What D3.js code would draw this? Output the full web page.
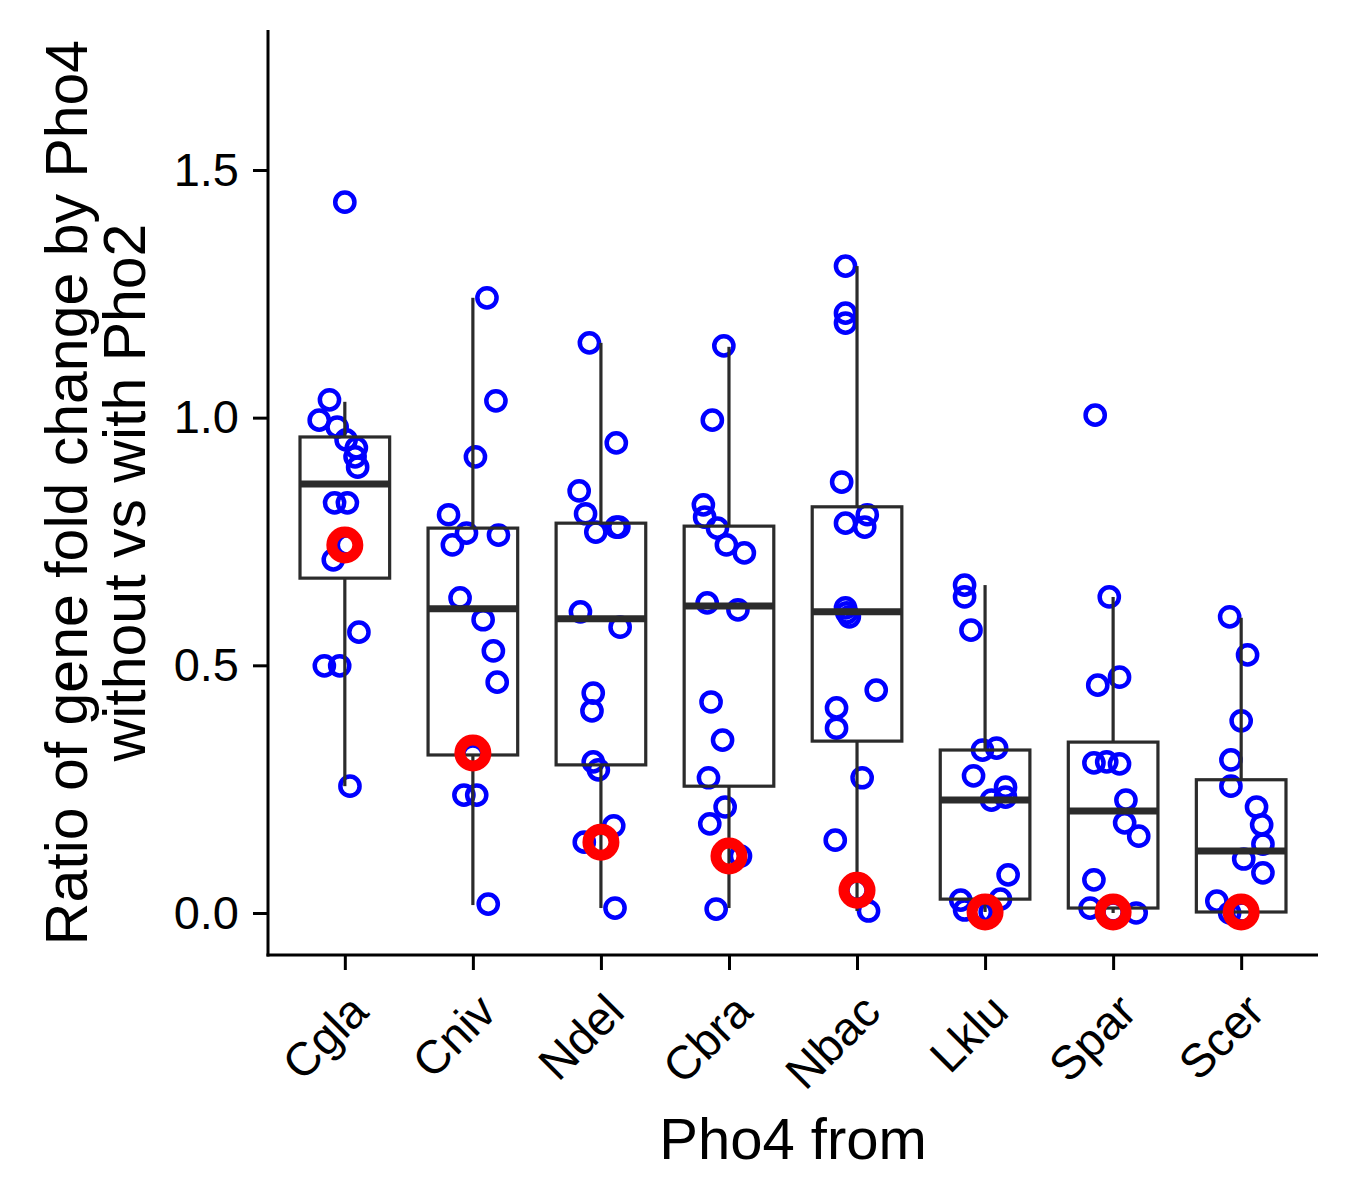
<!DOCTYPE html>
<html>
<head>
<meta charset="utf-8">
<script src="https://cdn.jsdelivr.net/npm/d3@7"></script>
<style>
  html, body { margin: 0; padding: 0; background: #ffffff; }
  svg { display: block; }
  text { font-family: "Liberation Sans", Arial, Helvetica, sans-serif; }
</style>
</head>
<body>
<svg id="chart" width="1350" height="1200"></svg>
<script>
// ---------- data ----------
const categories = ["Cgla", "Cniv", "Ndel", "Cbra", "Nbac", "Lklu", "Spar", "Scer"];

// individual gene ratios per category
const pointValues = [
  [1.435, 1.036, 0.995, 0.981, 0.955, 0.939, 0.921, 0.900, 0.828, 0.828, 0.743, 0.713, 0.567, 0.499, 0.499, 0.256],
  [1.242, 1.034, 0.921, 0.804, 0.767, 0.763, 0.743, 0.636, 0.592, 0.529, 0.466, 0.319, 0.238, 0.238, 0.018],
  [1.151, 0.949, 0.852, 0.806, 0.779, 0.779, 0.769, 0.608, 0.577, 0.444, 0.408, 0.305, 0.289, 0.176, 0.143, 0.010],
  [1.145, 0.995, 0.824, 0.799, 0.777, 0.743, 0.727, 0.626, 0.612, 0.426, 0.349, 0.273, 0.214, 0.180, 0.115, 0.008],
  [1.306, 1.211, 1.191, 0.870, 0.804, 0.787, 0.779, 0.616, 0.606, 0.598, 0.450, 0.414, 0.373, 0.273, 0.147, 0.046, 0.004],
  [0.662, 0.638, 0.571, 0.333, 0.329, 0.277, 0.254, 0.234, 0.228, 0.077, 0.028, 0.026, 0.006, 0.002, 0.002],
  [1.005, 0.638, 0.476, 0.460, 0.305, 0.303, 0.301, 0.228, 0.182, 0.155, 0.067, 0.010, 0.002, 0.000],
  [0.598, 0.521, 0.388, 0.309, 0.256, 0.214, 0.178, 0.139, 0.109, 0.081, 0.024, 0.002, 0.000]
];

// horizontal jitter of each point, in category units
const pointJitter = [
  [0.00, -0.12, -0.20, -0.06, 0.01, 0.09, 0.08, 0.10, -0.08, 0.02, 0.02, -0.09, 0.11, -0.16, -0.04, 0.04],
  [0.11, 0.18, 0.02, -0.19, -0.05, 0.20, -0.16, -0.10, 0.08, 0.16, 0.19, 0.00, -0.07, 0.03, 0.12],
  [-0.09, 0.12, -0.17, -0.12, 0.12, 0.14, -0.04, -0.16, 0.15, -0.06, -0.07, -0.06, -0.02, 0.10, -0.13, 0.11],
  [-0.04, -0.13, -0.20, -0.19, -0.09, -0.02, 0.12, -0.17, 0.07, -0.14, -0.05, -0.16, -0.03, -0.15, 0.09, -0.10],
  [-0.09, -0.09, -0.09, -0.12, 0.08, -0.09, 0.06, -0.09, -0.08, -0.06, 0.15, -0.16, -0.16, 0.04, -0.17, 0.00, 0.09],
  [-0.16, -0.16, -0.11, 0.09, -0.02, -0.09, 0.16, 0.16, 0.05, 0.18, 0.12, -0.19, -0.16, -0.03, 0.04],
  [-0.14, -0.03, 0.05, -0.12, -0.05, -0.15, 0.05, 0.10, 0.09, 0.20, -0.15, -0.18, 0.00, 0.18],
  [-0.09, 0.05, 0.00, -0.08, -0.08, 0.12, 0.16, 0.17, 0.02, 0.17, -0.19, 0.01, -0.09]
];

// boxplot statistics
const whiskerLow  = [0.256, 0.016, 0.010, 0.010, 0.004, 0.002, 0.000, 0.000];
const q1Values    = [0.676, 0.319, 0.299, 0.256, 0.347, 0.028, 0.010, 0.002];
const medians     = [0.866, 0.614, 0.594, 0.620, 0.608, 0.228, 0.206, 0.125];
const q3Values    = [0.961, 0.777, 0.787, 0.781, 0.820, 0.329, 0.345, 0.269];
const whiskerHigh = [1.032, 1.242, 1.151, 1.143, 1.306, 0.662, 0.638, 0.596];

// highlighted (red) value per category
const highlightValues = [0.743, 0.323, 0.143, 0.115, 0.046, 0.002, 0.002, 0.002];

const yTicks = [0.0, 0.5, 1.0, 1.5];
const xTitle = "Pho4 from";
const yTitleLines = ["Ratio of gene fold change by Pho4", "without vs with Pho2"];

// ---------- layout ----------
const panel = { left: 268, right: 1318, top: 30, bottom: 955 };
const svg = d3.select("#chart");

const x = d3.scalePoint()
  .domain(categories)
  .range([panel.left, panel.right])
  .padding(0.6);
const step = x.step();

const y = d3.scaleLinear()
  .domain([-0.0848, 1.7826])
  .range([panel.bottom, panel.top]);

const boxColor = "#2b2b2b";
const boxW = step * 0.7;

// ---------- blue jittered points ----------
const pts = [];
categories.forEach((c, i) => {
  pointValues[i].forEach((v, j) => pts.push({ c, v, jit: pointJitter[i][j] }));
});

svg.append("g")
  .selectAll("circle")
  .data(pts)
  .join("circle")
  .attr("cx", d => x(d.c) + d.jit * step)
  .attr("cy", d => y(d.v))
  .attr("r", 9.6)
  .attr("fill", "none")
  .attr("stroke", "#0000ff")
  .attr("stroke-width", 4.5);

// ---------- boxplots ----------
const boxes = categories.map((c, i) => ({
  c, lo: whiskerLow[i], q1: q1Values[i], med: medians[i], q3: q3Values[i], hi: whiskerHigh[i]
}));

const gb = svg.append("g");
gb.selectAll(".wu").data(boxes).join("line")
  .attr("x1", d => x(d.c)).attr("x2", d => x(d.c))
  .attr("y1", d => y(d.q3)).attr("y2", d => y(d.hi))
  .attr("stroke", boxColor).attr("stroke-width", 3.2);
gb.selectAll(".wl").data(boxes).join("line")
  .attr("x1", d => x(d.c)).attr("x2", d => x(d.c))
  .attr("y1", d => y(d.q1)).attr("y2", d => y(d.lo))
  .attr("stroke", boxColor).attr("stroke-width", 3.2);
gb.selectAll("rect").data(boxes).join("rect")
  .attr("x", d => x(d.c) - boxW / 2)
  .attr("width", boxW)
  .attr("y", d => y(d.q3))
  .attr("height", d => y(d.q1) - y(d.q3))
  .attr("fill", "none")
  .attr("stroke", boxColor)
  .attr("stroke-width", 3.2);
gb.selectAll(".med").data(boxes).join("line")
  .attr("x1", d => x(d.c) - boxW / 2).attr("x2", d => x(d.c) + boxW / 2)
  .attr("y1", d => y(d.med)).attr("y2", d => y(d.med))
  .attr("stroke", boxColor).attr("stroke-width", 7);

// ---------- red highlight points ----------
svg.append("g")
  .selectAll("circle")
  .data(categories.map((c, i) => ({ c, v: highlightValues[i] })))
  .join("circle")
  .attr("cx", d => x(d.c))
  .attr("cy", d => y(d.v))
  .attr("r", 13)
  .attr("fill", "none")
  .attr("stroke", "#ff0000")
  .attr("stroke-width", 11);

// ---------- axes ----------
const yAxis = d3.axisLeft(y)
  .tickValues(yTicks)
  .tickFormat(d3.format(".1f"))
  .tickSize(15)
  .tickPadding(14);
const gy = svg.append("g").attr("transform", `translate(${panel.left},0)`).call(yAxis);
gy.select(".domain").remove();
gy.selectAll(".tick line").attr("stroke", "#000").attr("stroke-width", 3);
gy.selectAll(".tick text").attr("font-size", 47).attr("fill", "#000")
  .attr("font-family", "Liberation Sans, Arial, sans-serif");

const xAxis = d3.axisBottom(x).tickSize(15).tickFormat(d => d);
const gx = svg.append("g").attr("transform", `translate(0,${panel.bottom})`).call(xAxis);
gx.select(".domain").remove();
gx.selectAll(".tick line").attr("stroke", "#000").attr("stroke-width", 3);
gx.selectAll(".tick text")
  .attr("font-size", 47)
  .attr("fill", "#000")
  .attr("font-family", "Liberation Sans, Arial, sans-serif")
  .attr("text-anchor", "end")
  .attr("y", null)
  .attr("transform", "translate(2,36) rotate(-45)")
  .attr("dy", "0.7em");

// axis lines
svg.append("line")
  .attr("x1", panel.left).attr("x2", panel.left)
  .attr("y1", panel.top).attr("y2", panel.bottom + 1.5)
  .attr("stroke", "#000").attr("stroke-width", 3);
svg.append("line")
  .attr("x1", panel.left - 1.5).attr("x2", panel.right)
  .attr("y1", panel.bottom).attr("y2", panel.bottom)
  .attr("stroke", "#000").attr("stroke-width", 3);

// ---------- titles ----------
svg.append("text")
  .attr("x", (panel.left + panel.right) / 2)
  .attr("y", 1159)
  .attr("text-anchor", "middle")
  .attr("font-size", 58)
  .attr("fill", "#000")
  .text(xTitle);

const cy = (panel.top + panel.bottom) / 2;
yTitleLines.forEach((t, i) => {
  svg.append("text")
    .attr("transform", `translate(${87 + i * 58},${cy}) rotate(-90)`)
    .attr("text-anchor", "middle")
    .attr("font-size", 59)
    .attr("fill", "#000")
    .text(t);
});
</script>
</body>
</html>
